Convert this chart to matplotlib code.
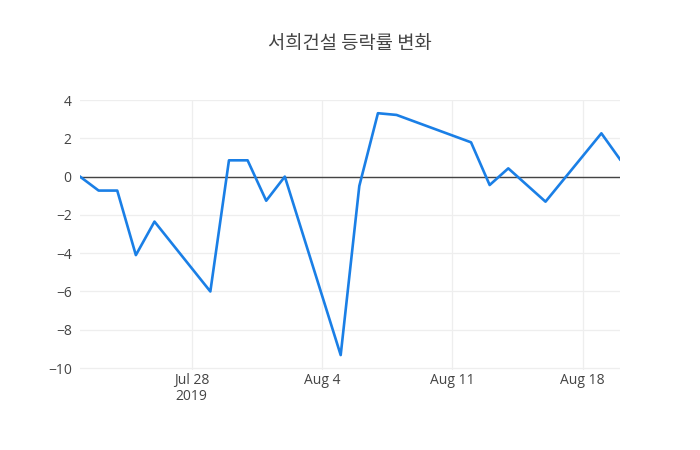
import matplotlib
matplotlib.use("Agg")
import matplotlib.pyplot as plt
import numpy as np
import pandas as pd

# daily change rate (%)
dates = ["2019-07-22", "2019-07-23", "2019-07-24", "2019-07-25", "2019-07-26",
         "2019-07-29", "2019-07-30", "2019-07-31", "2019-08-01", "2019-08-02",
         "2019-08-05", "2019-08-06", "2019-08-07", "2019-08-08", "2019-08-12",
         "2019-08-13", "2019-08-14", "2019-08-16", "2019-08-19", "2019-08-20"]
rates = [0.0, -0.73, -0.73, -4.1, -2.35,
         -6.0, 0.85, 0.85, -1.26, 0.0,
         -9.32, -0.49, 3.31, 3.22, 1.79,
         -0.44, 0.43, -1.31, 2.26, 0.9]

title = "서희건설 등락률 변화"
tick_dates = ["2019-07-28", "2019-08-04", "2019-08-11", "2019-08-18"]
tick_labels = ["Jul 28\n2019", "Aug 4", "Aug 11", "Aug 18"]
y_ticks = [4, 2, 0, -2, -4, -6, -8, -10]

x = pd.to_datetime(dates)

fig = plt.figure(figsize=(7, 4.5), dpi=100)
ax = fig.add_axes([80 / 700, 80 / 450, 540 / 700, 270 / 450])

ax.plot(x, rates, color="#1a7fe6", linewidth=1.9, zorder=3)
ax.axhline(0, color="#444444", linewidth=1, zorder=2)

ax.set_xlim(x[0], x[-1])
ax.set_ylim(-10.1, 4.0)

ax.set_xticks(pd.to_datetime(tick_dates))
ax.set_xticklabels(tick_labels)
ax.set_yticks(y_ticks)
ax.set_yticklabels([str(v).replace("-", "\u2212") for v in y_ticks])

ax.grid(True, color="#eeeeee", linewidth=0.9, zorder=0)
for s in ax.spines.values():
    s.set_visible(False)
ax.tick_params(length=0, labelsize=10, labelcolor="#444444")
ax.tick_params(axis="x", pad=2)
ax.tick_params(axis="y", pad=6)
for lab in ax.get_xticklabels() + ax.get_yticklabels():
    lab.set_family(["Open Sans", "DejaVu Sans"])
for lab in ax.get_xticklabels():
    lab.set_linespacing(1.1)

fig.text(350 / 700, 1 - 43.5 / 450, title, ha="center", va="center",
         fontsize=13.5, color="#444444", family=["Noto Sans CJK KR", "DejaVu Sans"])

fig.savefig("out.png", dpi=100)
